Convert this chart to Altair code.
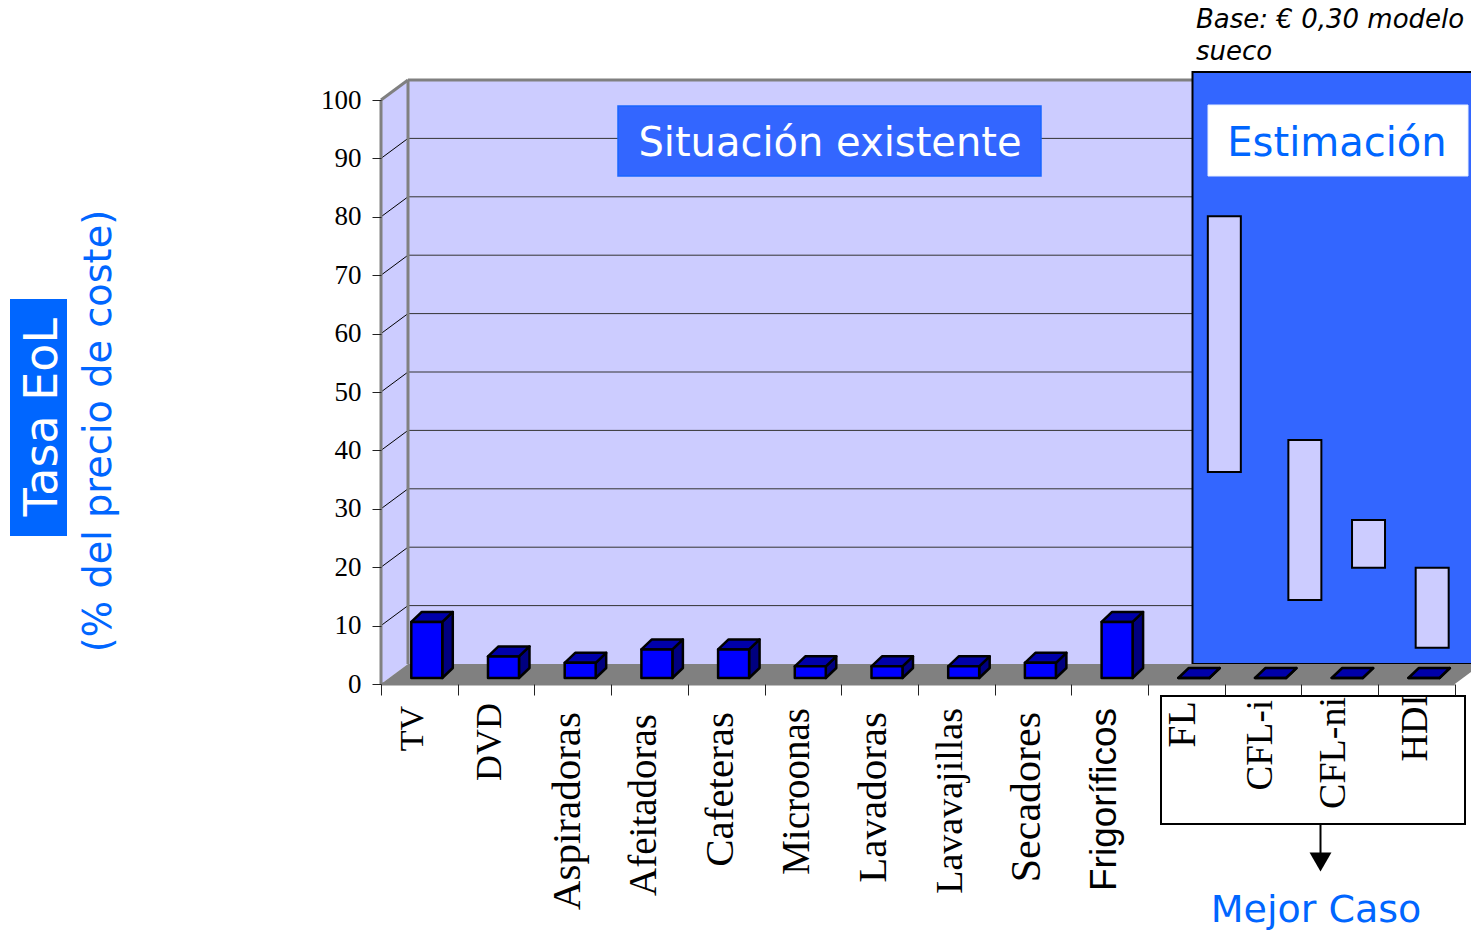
import altair as alt
import pandas as pd

# ---- values ----
categories = ["TV", "DVD", "Aspiradoras", "Afeitadoras", "Cafeteras", "Microonas",
              "Lavadoras", "Lavavajillas", "Secadores", "Frigoríficos",
              "FL", "CFL-i", "CFL-ni", "HDI"]
values = [9.6, 3.7, 2.6, 4.9, 4.9, 2.0, 2.0, 2.0, 2.6, 9.6, 0, 0, 0, 0]
range_low = [36.3, 14.4, 19.9, 6.2]
range_high = [80.1, 41.8, 28.1, 19.9]
range_cat = [10.78, 11.83, 12.66, 13.49]
y_ticks = [0, 10, 20, 30, 40, 50, 60, 70, 80, 90, 100]
x_ticks = list(range(15))

# ---- geometry ----
X0, Y0, PX_X, PX_Y = 381, 684, 76.7, 5.84
W, H = 1471 - X0, Y0 - 8
DX, DY = 27 / PX_X, 20 / PX_Y        # depth of the chart box
BX, BY = 10.5 / PX_X, 10 / PX_Y      # depth of the bars
BASE = 6 / PX_Y
BAR_L, BAR_W = 0.395, 0.404

px = lambda p: p - X0
py = lambda p: p - 8
SX = alt.Scale(domain=[0, W / PX_X], nice=False, zero=False)
SY = alt.Scale(domain=[0, H / PX_Y], nice=False, zero=False)
SERIF = "Liberation Serif"
SANS = "DejaVu Sans"
BLUE = "#0066FF"
PANEL = "#3366FF"
LAV = "#CCCCFF"
GREY = "#808080"

AX = alt.Axis(values=x_ticks, labels=False, domain=False, grid=False, tickSize=11,
              tickColor="#222222", tickWidth=1, zindex=1, title=None)
AY = alt.Axis(values=y_ticks, domain=False, grid=False, tickSize=9, tickColor="#222222",
              tickWidth=1, labelFont=SERIF, labelFontSize=27, labelColor="black",
              labelPadding=11, zindex=1, title=None)
X = lambda f="x": alt.X(f"{f}:Q", scale=SX, axis=AX, stack=None)
Y = lambda f="y": alt.Y(f"{f}:Q", scale=SY, axis=AY, stack=None)


def rule(rows, color, w):
    d = pd.DataFrame(rows, columns=["x", "x2", "y", "y2"])
    return alt.Chart(d).mark_rule(color=color, strokeWidth=w).encode(
        x=X(), x2="x2:Q", y=Y(), y2="y2:Q")


def box(x0, x1, y0, y1, fill, stroke=None, sw=0):
    kw = dict(fill=fill)
    if stroke:
        kw.update(stroke=stroke, strokeWidth=sw)
    return alt.Chart(pd.DataFrame({"a": [0]})).mark_rect(**kw).encode(
        x=alt.value(px(x0)), x2=alt.value(px(x1)), y=alt.value(py(y0)), y2=alt.value(py(y1)))


def label(text, x, y, size, color="black", font=SANS, angle=0, align="center", style="normal"):
    return alt.Chart(pd.DataFrame({"t": [text]})).mark_text(
        font=font, fontSize=size, color=color, angle=angle, align=align,
        baseline="middle", fontStyle=style).encode(
        text="t:N", x=alt.value(px(x)), y=alt.value(py(y)))


n = len(categories)
layers = []

# back wall
wall = pd.DataFrame({"x": [DX], "x2": [n + DX], "y": [DY], "y2": [100 + DY]})
layers.append(alt.Chart(wall).mark_rect(fill=LAV).encode(x=X(), x2="x2:Q", y=Y(), y2="y2:Q"))

# side wall
side = pd.DataFrame({"x": [0, DX], "y": [0, DY], "y2": [100, 100 + DY]})
layers.append(alt.Chart(side).mark_area(fill=LAV).encode(x=X(), y=Y(), y2="y2:Q"))

# grid
layers.append(rule([(DX, n + DX, v + DY, v + DY) for v in y_ticks[1:-1]], "#333333", 1))
layers.append(rule([(0, DX, v, v + DY) for v in y_ticks[1:-1]], "black", 1))

# box edges
layers.append(rule([(DX, DX, DY, 100 + DY), (DX, n + DX, 100 + DY, 100 + DY),
                    (0, 0, 0, 100), (0, DX, 100, 100 + DY), (0, n, 0, 0)], GREY, 3))

floor = pd.DataFrame({"y": [0, DY], "x": [0, DX], "x2": [n, n + DX]})
layers.append(box(618, 1041, 106, 176, PANEL, "#1A66FF", 1.5))
layers.append(label("Situación existente", 830, 144, 40, "white"))

# right panel
layers.append(box(1192.5, 1480, 72, 664, PANEL, "black", 2))
layers.append(box(1208, 1468, 105, 176, "white", "#E6EEFF", 1))
layers.append(label("Estimación", 1337, 144, 40, BLUE))

layers.append(alt.Chart(floor).mark_area(fill=GREY, orient="horizontal").encode(
    y=Y(), x=X(), x2="x2:Q"))

# range bars
rd = pd.DataFrame({"x": range_cat, "x2": [c + 33 / PX_X for c in range_cat],
                   "y": range_low, "y2": range_high})
layers.append(alt.Chart(rd).mark_rect(fill=LAV, stroke="black", strokeWidth=2).encode(
    x=X(), x2="x2:Q", y=Y(), y2="y2:Q"))

# 3-D bars
front, sides, tops = [], [], []
for i, v in enumerate(values):
    l, r = i + BAR_L, i + BAR_L + BAR_W
    b, t = BASE, BASE + v
    front.append({"x": l, "x2": r, "y": b, "y2": t})
    sides += [{"id": i, "x": r, "y": b, "y2": t}, {"id": i, "x": r + BX, "y": b + BY, "y2": t + BY}]
    tops += [{"id": i, "y": t, "x": l, "x2": r}, {"id": i, "y": t + BY, "x": l + BX, "x2": r + BX}]
bar_stroke = dict(stroke="black", strokeWidth=2.5, strokeJoin="round")
layers.append(alt.Chart(pd.DataFrame(sides)).mark_area(fill="#000080", **bar_stroke).encode(
    x=X(), y=Y(), y2="y2:Q", detail="id:N"))
layers.append(alt.Chart(pd.DataFrame(tops)).mark_area(fill="#0000AA", orient="horizontal", **bar_stroke).encode(
    y=Y(), x=X(), x2="x2:Q", detail="id:N"))
layers.append(alt.Chart(pd.DataFrame(front)).mark_rect(fill="#0000FF", **bar_stroke).encode(
    x=X(), x2="x2:Q", y=Y(), y2="y2:Q"))

# category labels
label_top = [706, 703, 712, 714, 712, 708, 712, 708, 712, 708, 701, 700, 697, 694]
label_size = [34, 36, 41, 39, 41, 39, 41, 38, 42, 37, 40, 37, 38, 38]
label_shift = [-6, -6, -5, -5, -5, -6, -6, -5, -6, -5, -3, -2, -6, 0]
for i, c in enumerate(categories):
    f = "Liberation Sans" if c == "Frigoríficos" else SERIF
    cx = X0 + (i + 0.5) * PX_X + label_shift[i]
    layers.append(label(c, cx, label_top[i], label_size[i], font=f, angle=270, align="right"))

# clipping strip and box under the axis
layers.append(box(1161, 1465, 686, 695, "white"))
layers.append(box(1161, 1465, 696, 824, "transparent", "black", 2))
layers.append(alt.Chart(pd.DataFrame({"a": [0]})).mark_rule(color="black", strokeWidth=2).encode(
    x=alt.value(px(1320.5)), y=alt.value(py(824)), y2=alt.value(py(855))))
layers.append(alt.Chart(pd.DataFrame({"a": [0]})).mark_point(
    shape="triangle-down", filled=True, fill="black", opacity=1, size=480).encode(
    x=alt.value(px(1320.5)), y=alt.value(py(862))))
layers.append(label("Mejor Caso", 1316, 911, 38, BLUE))

# notes top right
layers.append(label("Base: € 0,30 modelo", 1196, 20, 26, style="italic", align="left"))
layers.append(label("sueco", 1196, 52, 26, style="italic", align="left"))

# left titles
layers.append(box(10, 67, 299, 536, BLUE))
layers.append(label("Tasa EoL", 43, 417, 46, "white", angle=270))
layers.append(label("(% del precio de coste)", 100, 431, 38.3, BLUE, angle=270))

chart = alt.layer(*layers).properties(
    width=W, height=H, autosize="none", background="white",
    padding={"left": X0 - 8, "top": 0, "right": 0, "bottom": 930 - Y0},
).configure_view(stroke=None)

chart.save("out.html", embed_options={"renderer": "svg", "actions": False})
